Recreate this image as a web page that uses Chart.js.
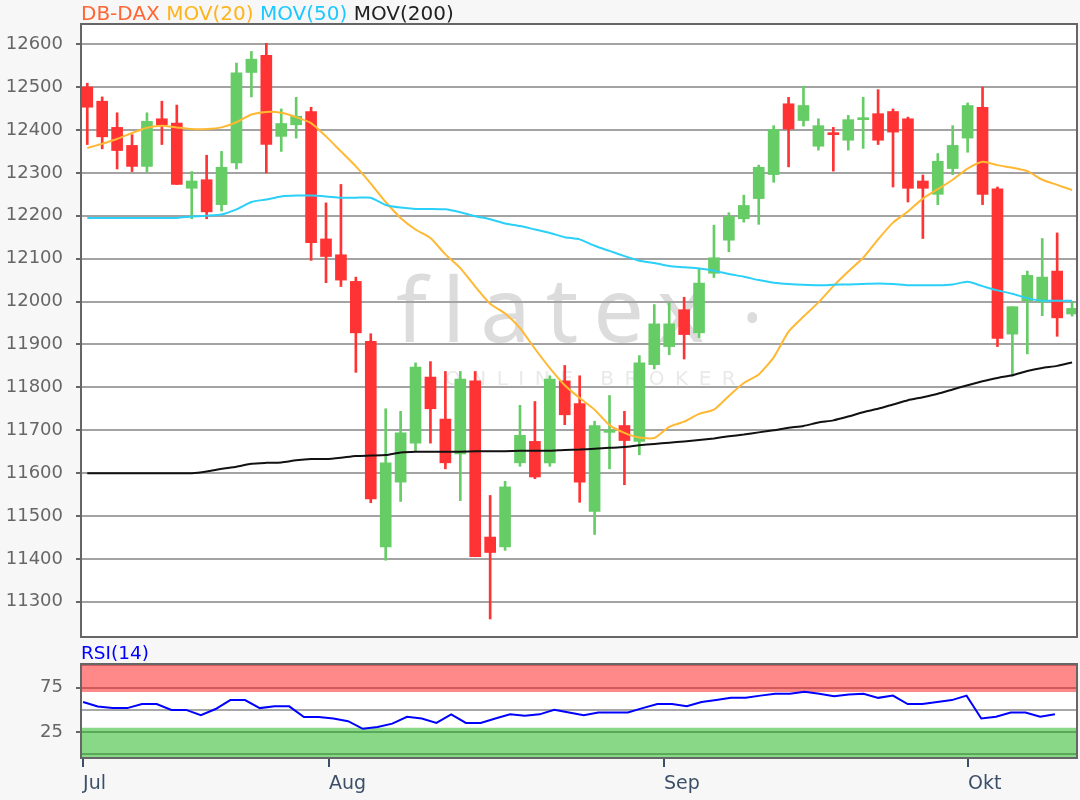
<!DOCTYPE html>
<html>
<head>
<meta charset="utf-8">
<script src="https://cdn.jsdelivr.net/npm/chart.js@4.4.0/dist/chart.umd.min.js"></script>
<style>
  body { margin: 0; background: #f7f7f7; font-family: "DejaVu Sans", Verdana, sans-serif; }
  #wrap { position: relative; width: 1080px; height: 800px; overflow: hidden; }
  #main { position: absolute; left: 0; top: 0; }
  #rsi { position: absolute; left: 0; top: 640px; }
  #legend { position: absolute; left: 81px; top: 2px; font-size: 20px; line-height: 22px; white-space: pre; }
  #rsiLabel { position: absolute; left: 81px; top: 642px; font-size: 18.5px; line-height: 22px; color: #0000ff; }
</style>
</head>
<body>
<div id="wrap">
  <canvas id="main" width="1080" height="640"></canvas>
  <canvas id="rsi" width="1080" height="160"></canvas>
  <div id="legend"><span style="color:#ff6633">DB-DAX</span> <span style="color:#ffb31a">MOV(20)</span> <span style="color:#1ec8ff">MOV(50)</span> <span style="color:#222">MOV(200)</span></div>
  <div id="rsiLabel">RSI(14)</div>
</div>
<script>
// daily candles, DAX, Jul - Okt
const openVals = [12500,12467,12406,12364,12315,12426,12416,12264,12284,12226,
  12323,12534,12574,12385,12412,12443,12146,12109,12047,11907,
  11428,11579,11670,11824,11726,11645,11815,11451,11428,11624,
  11674,11624,11815,11762,11511,11695,11711,11674,11853,11895,
  11981,11927,12066,12143,12193,12240,12296,12461,12422,12362,
  12393,12376,12424,12438,12443,12426,12281,12250,12310,12381,
  12453,12263,11924,12002,11999,12071,11971];
const highVals = [12509,12477,12440,12389,12440,12467,12458,12303,12341,12350,
  12556,12583,12602,12449,12476,12453,12230,12273,12057,11925,
  11750,11744,11857,11860,11837,11837,11837,11548,11581,11758,
  11767,11827,11851,11827,11721,11781,11744,11874,11993,11997,
  12010,12078,12178,12207,12248,12318,12410,12476,12502,12426,
  12406,12434,12476,12494,12449,12430,12295,12345,12410,12463,
  12500,12267,11988,12071,12147,12160,12000];
const lowVals = [12366,12356,12309,12303,12302,12366,12273,12193,12193,12211,
  12309,12477,12300,12350,12381,12096,12044,12035,11835,11531,
  11397,11534,11651,11670,11610,11536,11405,11260,11420,11616,
  11587,11616,11713,11532,11457,11610,11573,11643,11843,11876,
  11866,11916,12056,12116,12185,12180,12278,12314,12409,12353,
  12304,12353,12357,12366,12267,12232,12147,12226,12296,12348,
  12226,11895,11826,11878,11967,11919,11966];
const closeVals = [12453,12384,12352,12315,12420,12412,12273,12281,12209,12313,
  12533,12565,12366,12415,12432,12137,12105,12050,11927,11540,
  11624,11694,11847,11750,11624,11819,11405,11415,11568,11688,
  11591,11819,11736,11579,11711,11700,11676,11857,11948,11948,
  11923,12043,12102,12198,12224,12313,12401,12402,12457,12410,
  12389,12424,12428,12376,12395,12264,12264,12327,12364,12457,
  12250,11914,11988,12061,12057,11962,11984];

const ma20 = [12358,12368,12379,12393,12405,12410,12406,12402,12402,12406,
  12418,12436,12442,12440,12430,12416,12385,12350,12315,12275,
  12232,12195,12168,12148,12110,12078,12035,11995,11972,11938,
  11890,11845,11805,11775,11748,11712,11694,11683,11682,11708,
  11720,11738,11748,11780,11810,11830,11870,11930,11965,11998,
  12036,12070,12102,12145,12184,12210,12240,12262,12284,12310,
  12326,12318,12312,12304,12284,12272,12260];
const ma50 = [12195,12195,12195,12195,12195,12195,12195,12198,12200,12203,
  12215,12232,12238,12245,12247,12247,12245,12242,12242,12242,
  12225,12219,12216,12216,12215,12208,12199,12192,12182,12176,
  12168,12160,12150,12145,12130,12118,12106,12095,12090,12083,
  12080,12077,12072,12064,12058,12050,12044,12041,12039,12038,
  12039,12040,12041,12042,12041,12038,12038,12038,12040,12046,
  12036,12026,12018,12008,12002,12002,12002];
const ma200 = [11600,11600,11600,11600,11600,11600,11600,11600,11604,11610,
  11615,11622,11624,11625,11630,11633,11633,11636,11640,11641,
  11642,11648,11650,11650,11650,11650,11651,11651,11651,11652,
  11652,11652,11654,11655,11657,11659,11661,11665,11668,11671,
  11674,11677,11681,11686,11690,11695,11700,11706,11710,11718,
  11723,11732,11742,11750,11760,11770,11777,11785,11795,11805,
  11814,11822,11828,11838,11845,11850,11858];

const rsi14 = [58.8,53.8,52,52,56.5,56.5,50,50,44,51,
  61,61,52,54,54,42,42,40.4,37.3,28.8,
  30.8,34.6,42.3,40.4,35.4,45,35.4,35.4,40.4,45,
  43.5,45,50,47,44,47,47,47,52,56.5,
  56.5,54,58.8,61,63.5,63.5,66,68,68,70.4,
  68,65.4,67.3,68,63.5,66,56.5,56.5,58.8,61,
  66,40.4,42.3,47,47,42.3,45];

const priceTicks = [11300,11400,11500,11600,11700,11800,11900,12000,12100,12200,12300,12400,12500,12600];
const rsiTicks = [0, 25, 50, 75, 100];
const rsiLabelled = [25, 75];
const monthLabels = ['Jul', 'Aug', 'Sep', 'Okt'];
const monthPos = [0, 16.7, 39.45, 60.1];   // position on the rsi index axis
const overbought = 70;
const oversold = 30;

const UP = '#66cc66';
const DOWN = '#ff3333';
const FONT = '"DejaVu Sans", Verdana, sans-serif';

const idx = openVals.map((_, i) => i);
const candleColors = idx.map(i => closeVals[i] >= openVals[i] ? UP : DOWN);

// white plot area, watermark, dark frame
const panel = {
  id: 'panel',
  beforeDraw(chart, args, opts) {
    const { ctx, chartArea: a } = chart;
    ctx.save();
    ctx.fillStyle = '#ffffff';
    ctx.fillRect(a.left, a.top, a.right - a.left, a.bottom - a.top);
    if (opts.watermark) {
      ctx.fillStyle = '#dcdcdc';
      ctx.font = '400 90px "Noto Sans"';
      ctx.letterSpacing = '15px';
      ctx.textBaseline = 'alphabetic';
      ctx.fillText('flatex', 396, 342);
      ctx.font = '400 44px "Noto Sans"';
      ctx.letterSpacing = '0px';
      ctx.fillText('\u2022', 744, 334);
      ctx.fillStyle = '#e9e9e9';
      ctx.font = '20px ' + FONT;
      ctx.letterSpacing = '10.5px';
      ctx.fillText('ONLINE BROKER', 445, 385);
    }
    ctx.restore();
  },
  afterDraw(chart) {
    const { ctx, chartArea: a } = chart;
    ctx.save();
    ctx.strokeStyle = '#666666';
    ctx.lineWidth = 2;
    ctx.strokeRect(a.left, a.top, a.right - a.left, a.bottom - a.top);
    ctx.restore();
  }
};

const noEdgePadding = s => { s.width = 81; s.paddingTop = 0; s.paddingBottom = 0; };

const maLine = (label, values, color) => ({
  type: 'line',
  label: label,
  data: idx.map(i => ({ x: i, y: values[i] })),
  borderColor: color,
  borderWidth: 2,
  pointRadius: 0,
  tension: 0.2,
  order: 0
});

new Chart(document.getElementById('main'), {
  data: {
    datasets: [
      maLine('MOV(200)', ma200, '#111111'),
      maLine('MOV(50)', ma50, '#2bd0f8'),
      maLine('MOV(20)', ma20, '#ffb833'),
      {
        type: 'bar',
        label: 'wick',
        data: idx.map(i => ({ x: i, y: [lowVals[i], highVals[i]] })),
        backgroundColor: candleColors,
        barThickness: 2,
        grouped: false,
        order: 2
      },
      {
        type: 'bar',
        label: 'body',
        data: idx.map(i => ({ x: i, y: [openVals[i], closeVals[i]] })),
        backgroundColor: candleColors,
        barThickness: 11,
        minBarLength: 2,
        grouped: false,
        order: 1
      }
    ]
  },
  options: {
    responsive: false,
    animation: false,
    layout: { padding: { top: 24, right: 3, bottom: 3, left: 0 } },
    plugins: { legend: { display: false }, tooltip: { enabled: false }, panel: { watermark: true } },
    scales: {
      x: { type: 'linear', min: -0.42, max: 66.33, offset: false, display: false },
      y: {
        min: 11218,
        max: 12647,
        afterFit: noEdgePadding,
        afterBuildTicks(s) { s.ticks = priceTicks.map(v => ({ value: v })); },
        ticks: { callback: v => String(v), autoSkip: false, color: '#666666', font: { family: FONT, size: 18 }, padding: 13 },
        grid: { color: '#a3a3a3', lineWidth: 2, tickLength: 5, tickColor: '#666666' },
        border: { color: '#666666', width: 2 }
      }
    }
  },
  plugins: [panel]
});

const rsiIdx = rsi14.map((_, i) => i);
const rsiMin = -4, rsiMax = 101.5;
const rsiXMin = -0.14, rsiXMax = 67.5;

// translucent bands so the grid lines show through them
const band = (label, level, color, fill) => ({
  label: label,
  data: [{ x: rsiXMin, y: level }, { x: rsiXMax, y: level }],
  borderColor: 'rgba(0,0,0,0)',
  borderWidth: 1,
  pointRadius: 0,
  backgroundColor: color,
  fill: fill,
  order: 1
});

new Chart(document.getElementById('rsi'), {
  type: 'line',
  data: {
    datasets: [
      {
        label: 'RSI(14)',
        data: rsiIdx.map(i => ({ x: i, y: rsi14[i] })),
        borderColor: '#0000ff',
        borderWidth: 2,
        pointRadius: 0,
        tension: 0,
        order: 0
      },
      band('overbought', overbought, 'rgba(255,0,0,0.467)', 'end'),
      band('oversold', oversold, 'rgba(0,172,0,0.467)', 'start')
    ]
  },
  options: {
    responsive: false,
    animation: false,
    layout: { padding: { top: 24, right: 3, bottom: 0, left: 0 } },
    plugins: { legend: { display: false }, tooltip: { enabled: false }, panel: { watermark: false } },
    scales: {
      x: {
        type: 'linear',
        min: rsiXMin,
        max: rsiXMax,
        offset: false,
        afterFit(s) { s.height = 42; },
        afterBuildTicks(s) { s.ticks = monthPos.map(v => ({ value: v })); },
        ticks: {
          callback: (v, i) => monthLabels[i],
          align: 'start',
          autoSkip: false,
          maxRotation: 0,
          color: '#3b5068',
          font: { family: FONT, size: 19 },
          padding: 6
        },
        grid: { drawOnChartArea: false, tickLength: 9, tickColor: '#3b5068', lineWidth: 2 },
        border: { display: false }
      },
      y: {
        min: rsiMin,
        max: rsiMax,
        afterFit: noEdgePadding,
        afterBuildTicks(s) { s.ticks = rsiTicks.map(v => ({ value: v })); },
        ticks: {
          callback: v => rsiLabelled.includes(v) ? String(v) : '',
          autoSkip: false,
          color: '#666666',
          font: { family: FONT, size: 18 },
          padding: 13
        },
        grid: {
          color: '#a8a8a8',
          lineWidth: 2,
          tickLength: 5,
          tickColor: ctx => rsiLabelled.includes(ctx.tick && ctx.tick.value) ? '#666666' : 'rgba(0,0,0,0)'
        },
        border: { color: '#666666', width: 2 }
      }
    }
  },
  plugins: [panel]
});
</script>
</body>
</html>
